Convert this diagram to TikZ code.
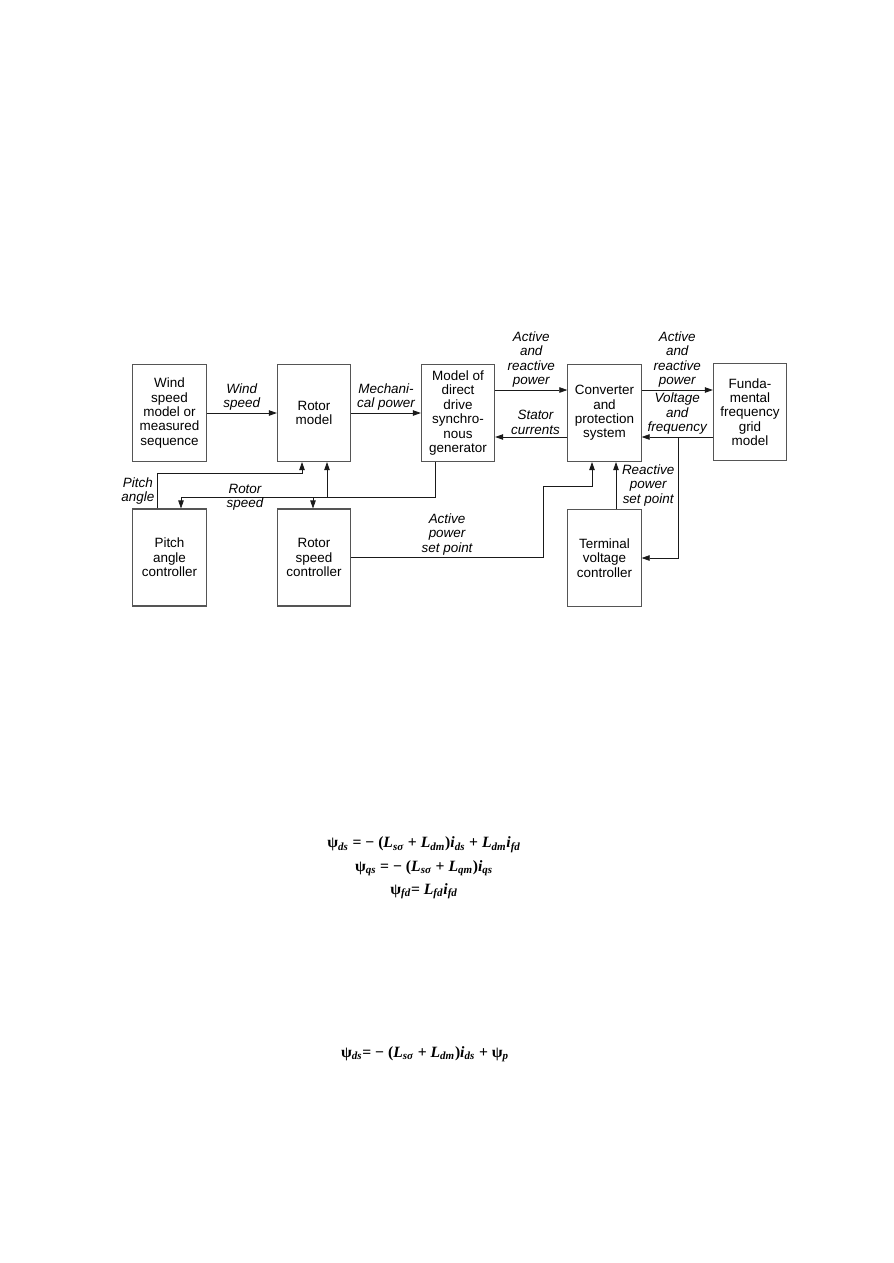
\documentclass[tikz,border=0pt]{standalone}
\usepackage{fontspec}
\setmainfont{Liberation Sans}
\newfontfamily\eqfont{Liberation Serif}
\usetikzlibrary{
  arrows.meta,
  calc,
  positioning
}
\definecolor{ink}{HTML}{1A1A1A}
\definecolor{frame}{HTML}{555555}
\newcommand{\lowidx}[1]{\textsubscript{\itshape #1}}
\tikzset{
  block/.style={
    draw=frame,
    line width=0.75pt,
    fill=white,
    minimum width=17.2mm,
    minimum height=22.8mm,
    inner sep=1pt,
    align=center,
    font=\fontsize{9}{9.6}\selectfont
  },
  signal/.style={
    -{Triangle[length=1.9mm,width=1.3mm]},
    draw=ink,
    line width=0.5pt
  },
  sigtext/.style={
    inner sep=1.5pt,
    align=center,
    font=\fontsize{9}{9.6}\selectfont\itshape
  },
  eqline/.style={
    align=center,
    font=\eqfont\bfseries\fontsize{10.5}{15.5}\selectfont
  }
}

\begin{document}
\begin{tikzpicture}[x=0.23516mm,y=-0.23516mm]
  \useasboundingbox (0,0) rectangle (893,1263);

  % Upper row of models.
  \node[block] (wind) at (169.5,413) {Wind\\speed\\model or\\measured\\sequence};
  \node[block] (rotor) at (314,413) {Rotor\\model};
  \node[block] (gen) at (458,413)
    {Model of\\direct\\drive\\synchro-\\nous\\generator};
  \node[block] (conv) at (604.5,413) {Converter\\and\\protection\\system};
  \node[block] (grid) at (750,412) {Funda-\\mental\\frequency\\grid\\model};

  % Lower row of controllers.
  \node[block] (pitch) at (169.5,557.5) {Pitch\\angle\\controller};
  \node[block] (speedctl) at (314,557.5) {Rotor\\speed\\controller};
  \node[block] (voltctl) at (604.5,558) {Terminal\\voltage\\controller};

  % Wiring levels and columns.
  \coordinate (powerlvl) at (0,390);
  \coordinate (returnlvl) at (0,437);
  \coordinate (pitchlvl) at (0,473);
  \coordinate (setlvl) at (0,486);
  \coordinate (speedlvl) at (0,497);
  \coordinate (pitchout) at (157,0);
  \coordinate (pitchin) at (181,0);
  \coordinate (rotorpitch) at (302,0);
  \coordinate (speedin) at (313,0);
  \coordinate (rotorin) at (327,0);
  \coordinate (genx) at (435,0);
  \coordinate (setx) at (543,0);
  \coordinate (convin) at (592,0);
  \coordinate (reactx) at (616,0);
  \coordinate (tapx) at (678,0);

  % Power chain.
  \draw[signal] (wind) -- node[sigtext, above] {Wind\\speed} (rotor);
  \draw[signal] (rotor) -- node[sigtext, above] {Mechani-\\cal power} (gen);
  \draw[signal] (gen.east |- powerlvl)
    -- node[sigtext, above] {Active\\and\\reactive\\power} (conv.west |- powerlvl);
  \draw[signal] (conv.west |- returnlvl)
    -- node[sigtext, above, xshift=1mm] {Stator\\currents} (gen.east |- returnlvl);
  \draw[signal] (conv.east |- powerlvl)
    -- node[sigtext, above] {Active\\and\\reactive\\power} (grid.west |- powerlvl);
  \draw[signal] (grid.west |- returnlvl)
    -- node[sigtext, above] {Voltage\\and\\frequency} (conv.east |- returnlvl);

  % Rotor speed feedback.
  \draw[signal] (gen.south -| genx) |- (speedlvl -| pitchin)
    -- (pitch.north -| pitchin);
  \draw[signal] (speedlvl -| speedin) -- (speedctl.north -| speedin);
  \draw[signal] (speedlvl -| rotorin) -- (rotor.south -| rotorin);
  \node[sigtext] (speedlbl) at (245,497.5) {Rotor\\speed};

  % Pitch angle.
  \draw[signal] (pitch.north -| pitchout)
    -- node[sigtext, left] {Pitch\\angle} (pitchlvl -| pitchout)
    -| (rotor.south -| rotorpitch);

  % Set points.
  \draw[signal] (speedctl.east)
    -- node[sigtext, above] {Active\\power\\set point} (speedctl.east -| setx)
    |- (setlvl -| convin) -- (conv.south -| convin);
  \draw[signal] (voltctl.north -| reactx)
    -- node[sigtext, right, xshift=0.8mm] {Reactive\\power\\set point}
    (conv.south -| reactx);
  \draw[signal] (returnlvl -| tapx) |- (voltctl.east);

  % Flux equations.
  \node[eqline] (fluxeqs) at (424,868) {%
    ψ\lowidx{ds} = − (\textit{L}\lowidx{sσ} + \textit{L}\lowidx{dm})\textit{i}\lowidx{ds}
      + \textit{L}\lowidx{dm}\textit{i}\lowidx{fd}\\
    ψ\lowidx{qs} = − (\textit{L}\lowidx{sσ} + \textit{L}\lowidx{qm})\textit{i}\lowidx{qs}\\
    ψ\lowidx{fd}= \textit{L}\lowidx{fd}\textit{i}\lowidx{fd}};
  \node[eqline] (pmeq) at (425,1054) {%
    ψ\lowidx{ds}= − (\textit{L}\lowidx{sσ} + \textit{L}\lowidx{dm})\textit{i}\lowidx{ds}
      + ψ\lowidx{p}};
\end{tikzpicture}
\end{document}
